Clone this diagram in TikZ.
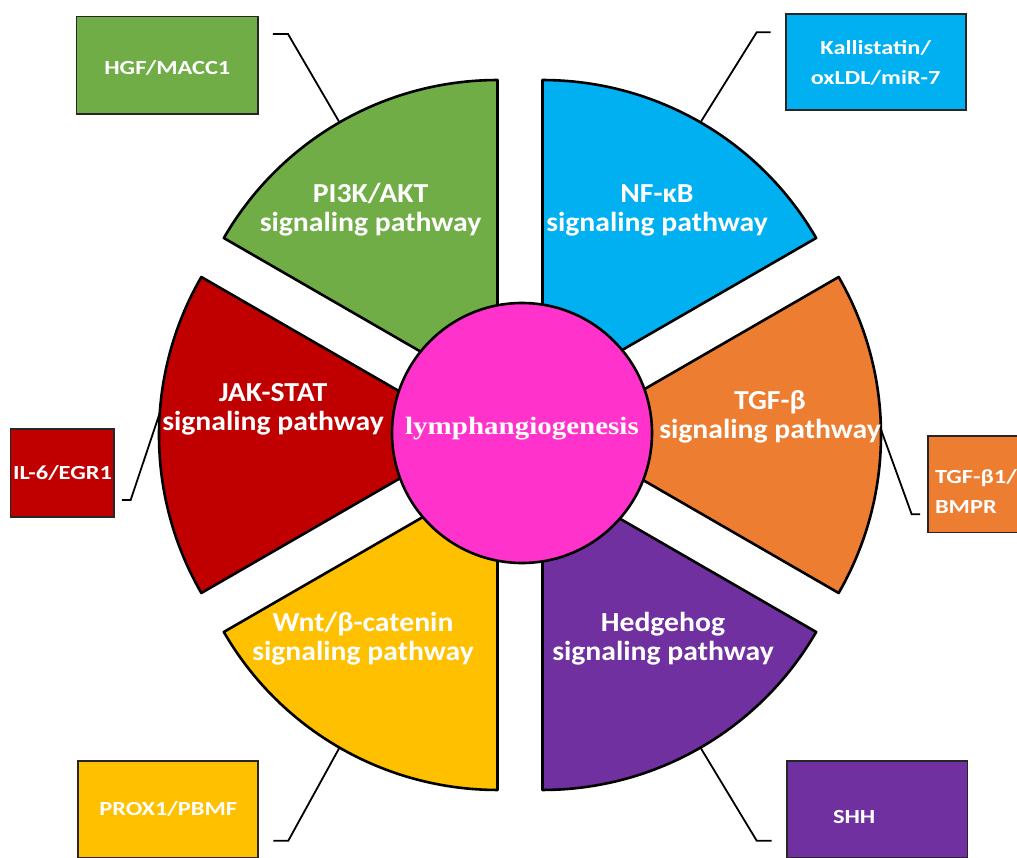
\documentclass[tikz,border=0pt]{standalone}
\usepackage{fontspec}
\usepackage{graphicx}
\usetikzlibrary{calc}
\newfontfamily\carlito{Carlito}
\newfontfamily\libserif{Liberation Serif}
\definecolor{cgreen}{HTML}{70AD47}
\definecolor{cblue}{HTML}{00B0F0}
\definecolor{cred}{HTML}{C00000}
\definecolor{corange}{HTML}{ED7D31}
\definecolor{cyellow}{HTML}{FFC000}
\definecolor{cpurple}{HTML}{7030A0}
\definecolor{cmagenta}{HTML}{FF33CC}
\newcommand{\twoc}[2]{\begin{tabular}[b]{@{}c@{}}#1\\#2\end{tabular}}
\newcommand{\twolft}[2]{\begin{tabular}[b]{@{}l@{}}#1\\#2\end{tabular}}
\newcommand{\sx}[1]{\scalebox{1.08}[1]{#1}}
\newcommand{\bx}[1]{\scalebox{1.22}[1]{#1}}
\begin{document}
\begin{tikzpicture}[x=1pt,y=1pt,
  slice/.style={draw=black, line width=2.6pt, line join=round},
  seclab/.style={text=white, inner sep=0pt, anchor=base, font=\carlito\bfseries\fontsize{27.5}{29}\selectfont},
  infobox/.style={draw=black!85, line width=1.6pt, text=white, inner sep=0pt, font=\carlito\bfseries\fontsize{20}{30}\selectfont, text depth=0pt},
  conn/.style={draw=black, line width=1.8pt}]
\useasboundingbox (-520,-423) rectangle (497,435);
\clip (-520,-423) rectangle (497,435);

% slice apexes
\coordinate (nfapex) at (22.5,38.97);
\coordinate (tgfapex) at (45,0);
\coordinate (hhapex) at (22.5,-38.97);
\coordinate (wntapex) at (-22.5,-38.97);
\coordinate (jakapex) at (-45,0);
\coordinate (piapex) at (-22.5,38.97);

% slices
\filldraw[slice, fill=cblue] (nfapex) -- ($(nfapex)+(90:316)$) arc[start angle=90, end angle=30, radius=316] -- cycle;
\filldraw[slice, fill=corange] (tgfapex) -- ($(tgfapex)+(30:316)$) arc[start angle=30, end angle=-30, radius=316] -- cycle;
\filldraw[slice, fill=cpurple] (hhapex) -- ($(hhapex)+(-30:316)$) arc[start angle=-30, end angle=-90, radius=316] -- cycle;
\filldraw[slice, fill=cyellow] (wntapex) -- ($(wntapex)+(-90:316)$) arc[start angle=-90, end angle=-150, radius=316] -- cycle;
\filldraw[slice, fill=cred] (jakapex) -- ($(jakapex)+(210:316)$) arc[start angle=210, end angle=150, radius=316] -- cycle;
\filldraw[slice, fill=cgreen] (piapex) -- ($(piapex)+(150:316)$) arc[start angle=150, end angle=90, radius=316] -- cycle;

% centre
\node[circle, draw=black, line width=2.6pt, fill=cmagenta, minimum size=260pt, inner sep=0pt, text=white,
  font=\libserif\bfseries\fontsize{25}{30}\selectfont, text height=4pt, text depth=0pt] (hub) at (2,2)
  {\scalebox{1.16}[1]{lymphangiogenesis}};

% sector labels
\node[seclab] (pilab) at (-149.5,203.3) {\sx{\twoc{PI3K/AKT}{signaling pathway}}};
\node[seclab] (nflab) at (137,203.3) {\sx{\twoc{NF-κB}{signaling pathway}}};
\node[seclab] (jaklab) at (-247,4) {\sx{\twoc{JAK-STAT}{signaling pathway}}};
\node[seclab] (tgflab) at (250,-4) {\sx{\twoc{TGF-β}{signaling pathway}}};
\node[seclab] (wntlab) at (-157,-226) {\sx{\twoc{Wnt/β-catenin}{signaling pathway}}};
\node[seclab] (hhlab) at (143,-226) {\sx{\twoc{Hedgehog}{signaling pathway}}};

% boxes
\node[infobox, fill=cgreen, minimum width=181.3pt, minimum height=97.3pt, text height=17.4pt] (hgf) at (-352.65,369.65) {\bx{HGF/MACC1}};
\node[infobox, fill=cblue, minimum width=180pt, minimum height=96pt, text height=46pt] (kall) at (355.7,373) {\bx{\twoc{Kallistatin/}{oxLDL/miR-7}}};
\node[infobox, fill=cred, minimum width=103.6pt, minimum height=88.3pt, text height=13.6pt] (il6) at (-457.5,-38.15) {\bx{IL-6/EGR1}};
\node[infobox, fill=corange, minimum width=104pt, minimum height=96.7pt, text height=57.4pt] (tgfb1) at (460,-49.35) {\makebox[90pt][l]{\bx{\twolft{TGF-β1/}{BMPR}}}};
\node[infobox, fill=cyellow, minimum width=180pt, minimum height=97pt, text height=12.4pt] (prox) at (-351.7,-374.5) {\bx{PROX1/PBMF}};
\node[infobox, fill=cpurple, minimum width=180.6pt, minimum height=97pt, text height=27pt] (shh) at (357,-374.5) {\makebox[88pt][l]{\bx{SHH}}};

% connector points
\coordinate (pipt) at ($(piapex)+(120:316)$);
\coordinate (nfpt) at ($(nfapex)+(60:316)$);
\coordinate (jakpt) at ($(jakapex)+(176:316)$);
\coordinate (tgfpt) at ($(tgfapex)+(1:316)$);
\coordinate (wntpt) at ($(wntapex)+(-120:316)$);
\coordinate (hhpt) at ($(hhapex)+(-60:316)$);
\coordinate (hgfknee) at (-232,401);
\coordinate (hgfend) at (-247,401);
\coordinate (kallknee) at (236.7,402.7);
\coordinate (kallend) at (250.7,402.7);
\coordinate (il6knee) at (-389.3,-65);
\coordinate (il6end) at (-398,-65);
\coordinate (tgfknee) at (391.7,-79.3);
\coordinate (tgfend) at (400,-79.3);
\coordinate (proxknee) at (-231.7,-405.7);
\coordinate (proxend) at (-246.7,-405.7);
\coordinate (shhknee) at (236.7,-405.7);
\coordinate (shhend) at (251.7,-405.7);

\draw[conn] (pipt) -- (hgfknee) -- (hgfend);
\draw[conn] (nfpt) -- (kallknee) -- (kallend);
\draw[conn] (jakpt) -- (il6knee) -- (il6end);
\draw[conn] (tgfpt) -- (tgfknee) -- (tgfend);
\draw[conn] (wntpt) -- (proxknee) -- (proxend);
\draw[conn] (hhpt) -- (shhknee) -- (shhend);
\end{tikzpicture}
\end{document}
